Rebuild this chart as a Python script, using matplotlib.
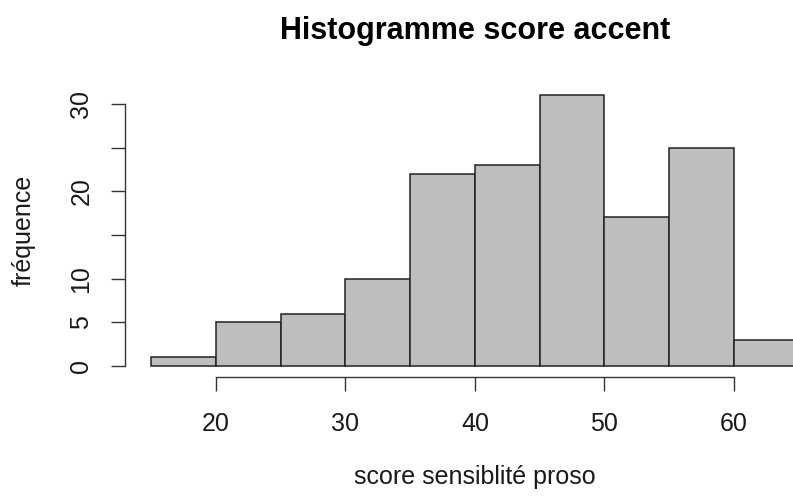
import matplotlib
matplotlib.use('Agg')
import matplotlib.pyplot as plt

plt.rcParams['font.family'] = ['Liberation Sans', 'DejaVu Sans']

# histogram data (bin left edges, counts)
bin_left = [15, 20, 25, 30, 35, 40, 45, 50, 55, 60]
bin_width = 5
counts = [1, 5, 6, 10, 22, 23, 31, 17, 25, 3]

x_ticks = [20, 30, 40, 50, 60]
y_ticks = [0, 5, 10, 15, 20, 25, 30]
y_ticklabels = ['0', '5', '10', '', '20', '', '30']

W, H = 793, 499
fig = plt.figure(figsize=(W / 100, H / 100), dpi=100)

# R plot region (extends past right edge of figure, like the original)
x0, x1 = 125.35, 824.6
y0, y1 = 84.4, 376.8
ax = fig.add_axes([x0 / W, 1 - y1 / H, (x1 - x0) / W, (y1 - y0) / H])

ax.bar(bin_left, counts, width=bin_width, align='edge',
       color='#BEBEBE', edgecolor='#222222', linewidth=1.1, clip_on=False)

ax.set_xlim(13, 67)
ax.set_ylim(-1.24, 32.24)

for s in ['top', 'right']:
    ax.spines[s].set_visible(False)
ax.spines['bottom'].set_bounds(x_ticks[0], x_ticks[-1])
ax.spines['left'].set_bounds(y_ticks[0], y_ticks[-1])
for s in ['bottom', 'left']:
    ax.spines[s].set_color('#333333')
    ax.spines[s].set_linewidth(1.0)

ax.set_xticks(x_ticks)
ax.set_yticks(y_ticks)
ax.set_yticklabels(y_ticklabels, rotation=90, va='center')
ax.tick_params(axis='both', length=10, width=1.0, color='#333333',
               labelsize=18, labelcolor='#1a1a1a')
ax.tick_params(axis='x', pad=15)
ax.tick_params(axis='y', pad=13)

ax.set_title('Histogramme score accent', fontsize=22, fontweight='bold',
             pad=33, x=0.5)
ax.set_xlabel('score sensiblité proso', fontsize=18, color='#1a1a1a')
ax.xaxis.set_label_coords(0.5, -0.303)
ax.set_ylabel('fréquence', fontsize=18, color='#1a1a1a')
ax.yaxis.set_label_coords(-0.128, 0.5)

fig.savefig('out.png', dpi=100)
